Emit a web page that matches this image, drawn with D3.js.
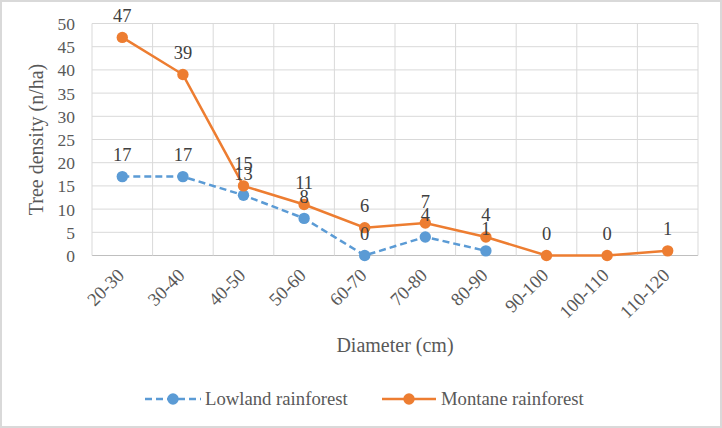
<!DOCTYPE html>
<html>
<head>
<meta charset="utf-8">
<script src="https://cdn.jsdelivr.net/npm/d3@7"></script>
<style>
  body { margin: 0; background: #fff; }
  text { font-family: 'Liberation Serif', 'Times New Roman', serif; }
</style>
</head>
<body>
<script>
const categories = ['20-30', '30-40', '40-50', '50-60', '60-70', '70-80', '80-90', '90-100', '100-110', '110-120']
const lowland = [17, 17, 13, 8, 0, 4, 1, null, null, null]
const montane = [47, 39, 15, 11, 6, 7, 4, 0, 0, 1]
const yTicks = [0, 5, 10, 15, 20, 25, 30, 35, 40, 45, 50]

const width = 722
const height = 428
const margin = { left: 92, right: 24, top: 23.5, bottom: 172.5 }
const serif = "'Liberation Serif', 'Times New Roman', serif"

const svg = d3.select('body').append('svg')
  .attr('width', width)
  .attr('height', height)

svg.append('rect')
  .attr('x', 1).attr('y', 1)
  .attr('width', width - 2).attr('height', height - 2)
  .attr('fill', '#fff')
  .attr('stroke', '#d9d9d9')
  .attr('stroke-width', 2)

const x = d3.scaleBand()
  .domain(categories)
  .range([margin.left, width - margin.right])

const y = d3.scaleLinear()
  .domain([0, 50])
  .range([height - margin.bottom, margin.top])

// grid
const grid = svg.append('g')
grid.selectAll('.h')
  .data(yTicks)
  .enter()
  .append('line')
  .attr('x1', margin.left).attr('x2', width - margin.right)
  .attr('y1', (d) => y(d)).attr('y2', (d) => y(d))
  .attr('stroke', (d) => (d === 0 ? '#bfbfbf' : '#d9d9d9'))
  .attr('stroke-width', 1)

const bounds = categories.map((c) => x(c)).concat([width - margin.right])
grid.selectAll('.v')
  .data(bounds)
  .enter()
  .append('line')
  .attr('x1', (d) => d).attr('x2', (d) => d)
  .attr('y1', y(50)).attr('y2', y(0))
  .attr('stroke', '#d9d9d9')
  .attr('stroke-width', 1)

// y axis
const yAxis = svg.append('g')
  .attr('transform', `translate(${margin.left - 17},0)`)
  .call(d3.axisLeft(y).tickValues(yTicks).tickSize(0))
yAxis.attr('font-family', serif).attr('font-size', 17.5)
yAxis.select('.domain').remove()
yAxis.selectAll('text')
  .attr('x', 0)
  .attr('dy', '0.34em')
  .attr('fill', '#595959')

// x axis
const xAxis = svg.append('g')
  .attr('transform', `translate(0,${y(0)})`)
  .call(d3.axisBottom(x).tickSize(0))
xAxis.attr('font-family', serif).attr('font-size', 18.5)
xAxis.select('.domain').remove()
xAxis.selectAll('text')
  .attr('y', 0)
  .attr('dy', 0)
  .attr('text-anchor', 'end')
  .attr('transform', 'translate(3,21) rotate(-45)')
  .attr('fill', '#595959')

// axis titles
svg.append('text')
  .attr('transform', `translate(43,${(y(0) + y(50)) / 2}) rotate(-90)`)
  .attr('text-anchor', 'middle')
  .style('font-size', '20px')
  .attr('fill', '#595959')
  .text('Tree density (n/ha)')

svg.append('text')
  .attr('x', (margin.left + width - margin.right) / 2)
  .attr('y', 352)
  .attr('text-anchor', 'middle')
  .style('font-size', '20px')
  .attr('fill', '#595959')
  .text('Diameter (cm)')

const cx = (i) => x(categories[i]) + x.bandwidth() / 2

const series = [
  { name: 'Lowland rainforest', values: lowland, color: '#5b9bd5', dash: '7,4' },
  { name: 'Montane rainforest', values: montane, color: '#ed7d31', dash: null },
]

const line = d3.line()
  .defined((d) => d != null)
  .x((d, i) => cx(i))
  .y((d) => y(d))

series.forEach((s) => {
  svg.append('path')
    .datum(s.values)
    .attr('d', line)
    .attr('fill', 'none')
    .attr('stroke', s.color)
    .attr('stroke-width', 2.5)
    .attr('stroke-dasharray', s.dash)

  const pts = s.values.map((v, i) => ({ v, i })).filter((d) => d.v != null)
  svg.selectAll(null)
    .data(pts)
    .enter()
    .append('circle')
    .attr('cx', (d) => cx(d.i))
    .attr('cy', (d) => y(d.v))
    .attr('r', 5.7)
    .attr('fill', s.color)
})

// data labels
series.forEach((s) => {
  const pts = s.values.map((v, i) => ({ v, i })).filter((d) => d.v != null)
  svg.selectAll(null)
    .data(pts)
    .enter()
    .append('text')
    .attr('x', (d) => cx(d.i))
    .attr('y', (d) => y(d.v) - 15.5)
    .attr('text-anchor', 'middle')
    .style('font-size', '18.5px')
    .attr('fill', '#404040')
    .text((d) => d.v)
})

// legend
const legend = svg.append('g').attr('transform', 'translate(0,399)')
const legendItems = [
  { s: series[0], x0: 145, x1: 201, tx: 205 },
  { s: series[1], x0: 382, x1: 436, tx: 441 },
]
legendItems.forEach((it) => {
  legend.append('line')
    .attr('x1', it.x0).attr('x2', it.x1)
    .attr('y1', 0).attr('y2', 0)
    .attr('stroke', it.s.color)
    .attr('stroke-width', 2.5)
    .attr('stroke-dasharray', it.s.dash)
  legend.append('circle')
    .attr('cx', (it.x0 + it.x1) / 2)
    .attr('cy', 0)
    .attr('r', 5.7)
    .attr('fill', it.s.color)
  legend.append('text')
    .attr('x', it.tx)
    .attr('y', 0)
    .attr('dy', '0.34em')
    .style('font-size', '18.7px')
    .attr('fill', '#595959')
    .text(it.s.name)
})
</script>
</body>
</html>
